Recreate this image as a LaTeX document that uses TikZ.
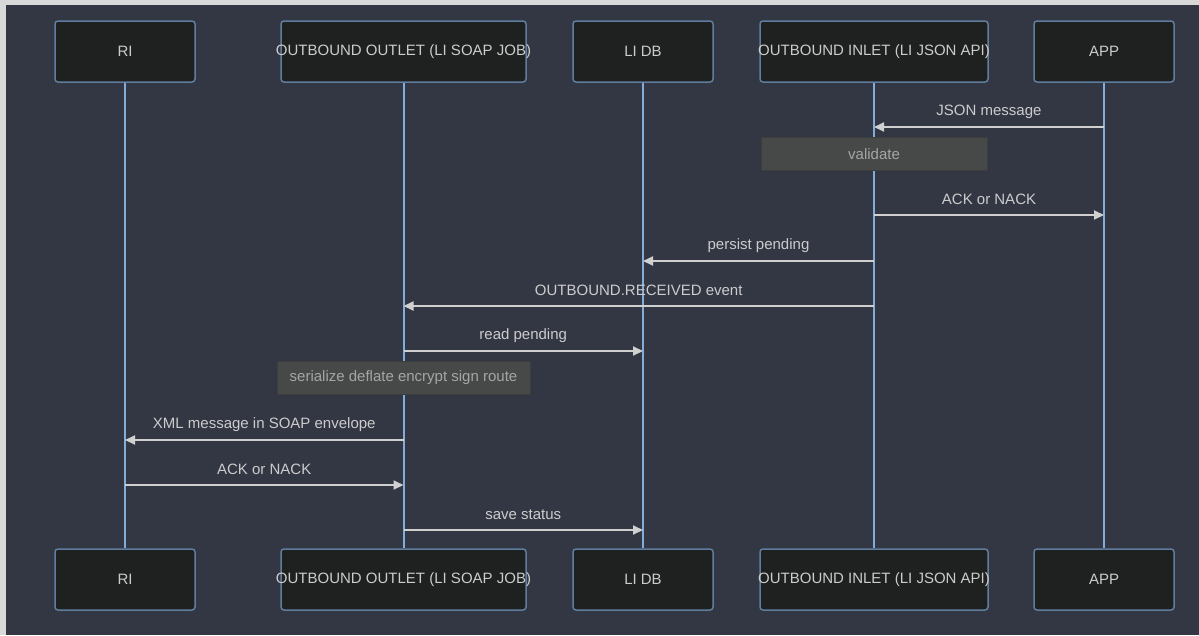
\documentclass[tikz,border=0pt]{standalone}
\usepackage{fontspec}
\setmainfont{Liberation Sans}
\usetikzlibrary{positioning,arrows.meta}

\definecolor{bgDark}{RGB}{51,55,68}
\definecolor{frameGrey}{RGB}{216,216,216}
\definecolor{boxFill}{RGB}{31,32,32}
\definecolor{boxLine}{RGB}{95,125,158}
\definecolor{lifeBlue}{RGB}{132,172,216}
\definecolor{msgGrey}{RGB}{208,208,208}
\definecolor{txtGrey}{RGB}{204,204,204}
\definecolor{noteFill}{RGB}{71,73,73}
\definecolor{noteLine}{RGB}{60,62,62}
\definecolor{noteTxt}{RGB}{165,165,165}

\tikzset{
  actorbox/.style={draw=boxLine, line width=1.5pt, fill=boxFill, rounded corners=3pt,
    minimum height=61pt, inner sep=0pt, text=txtGrey, font=\fontsize{15}{18}\selectfont},
  lifeline/.style={draw=lifeBlue, line width=2pt},
  msgline/.style={draw=msgGrey, line width=2pt, -{Triangle[length=10pt,width=9pt]}},
  msglabel/.style={text=txtGrey, inner sep=0pt, font=\fontsize{15}{18}\selectfont},
  notebox/.style={draw=noteLine, line width=1pt, fill=noteFill, minimum height=33pt,
    inner sep=0pt, text=noteTxt, font=\fontsize{15}{18}\selectfont}
}

\begin{document}
\begin{tikzpicture}[x=1pt,y=-1pt]
\fill[frameGrey] (0,0) rectangle (1199,635);
\fill[bgDark] (6,5) rectangle (1199,635);
\useasboundingbox (0,0) rectangle (1199,635);

% 參與者 上下兩排 + 生命線
\foreach \n/\x/\w/\t in {RI/125/140/{RI},
    Outlet/403.5/245/{OUTBOUND OUTLET (LI SOAP JOB)},
    Db/643/140/{LI DB},
    Inlet/874/228/{OUTBOUND INLET (LI JSON API)},
    App/1104/140/{APP}}
{
    \node[actorbox, minimum width=\w pt] (t\n) at (\x,51.5) {\raisebox{-2pt}{\makebox[0pt]{\t}}};
    \node[actorbox, minimum width=\w pt] (b\n) at (\x,579.5) {\raisebox{-2pt}{\makebox[0pt]{\t}}};
    \draw[lifeline] (t\n.south) -- (b\n.north);
};

% 訊息
\foreach \a/\b/\y/\t in {App/Inlet/127/{JSON message},
    Inlet/App/215/{ACK or NACK},
    Inlet/Db/261/{persist pending},
    Inlet/Outlet/306/{OUTBOUND.RECEIVED event},
    Outlet/Db/351/{read pending},
    Outlet/RI/440/{XML message in SOAP envelope},
    RI/Outlet/485/{ACK or NACK},
    Outlet/Db/530/{save status}}
{
    \draw[msgline] (t\a |- 0,\y) -- (t\b |- 0,\y)
        node[msglabel, midway, yshift=15.5pt] {\t};
};

% 註記
\node[notebox, minimum width=226pt] (nValidate) at (tInlet |- 0,154) {\raisebox{-1pt}{validate}};
\node[notebox, minimum width=253pt] (nSerialize) at (tOutlet |- 0,378) {\raisebox{-1pt}{serialize deflate encrypt sign route}};
\end{tikzpicture}
\end{document}
